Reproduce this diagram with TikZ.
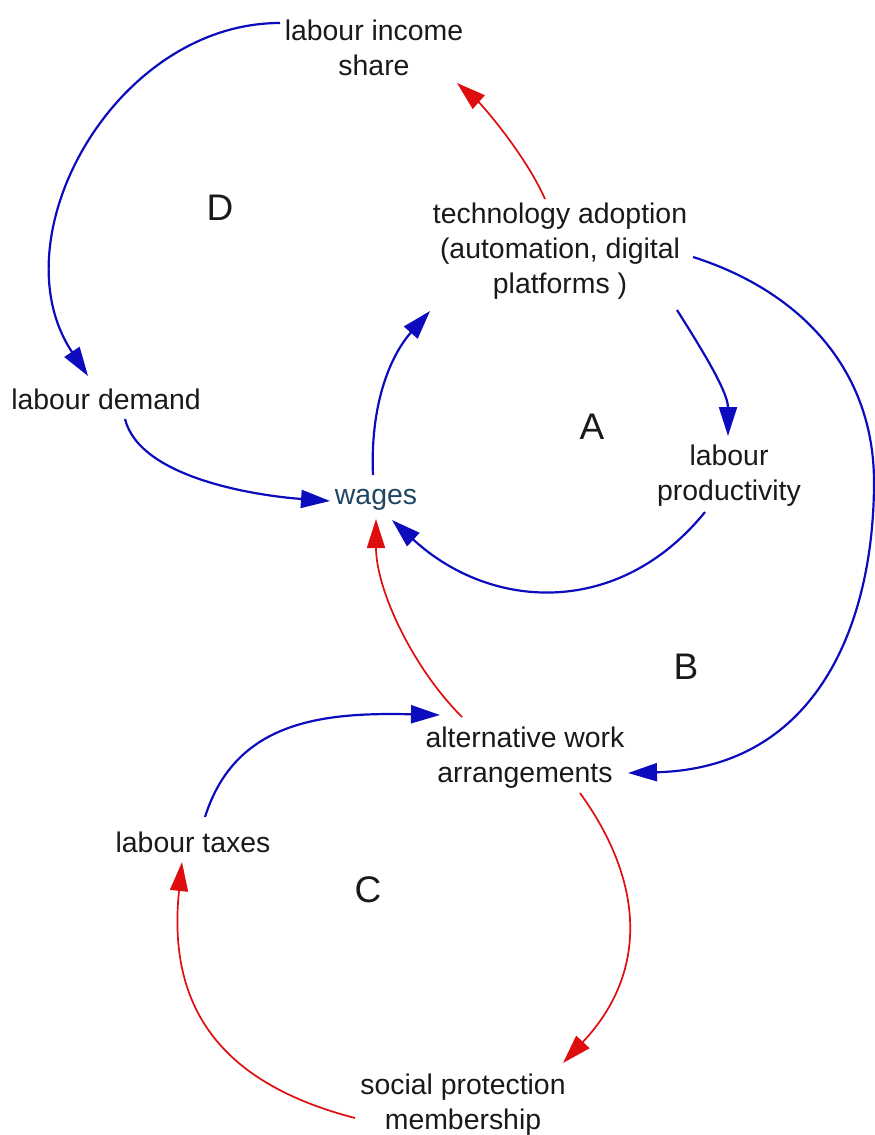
\documentclass[tikz,border=0pt]{standalone}
\usepackage{fontspec}
\setmainfont{Liberation Sans}
\usetikzlibrary{arrows.meta,calc}
\definecolor{loopblue}{RGB}{12,12,190}
\definecolor{loopred}{RGB}{222,14,14}
\definecolor{wagecol}{RGB}{30,70,100}
\begin{document}
\begin{tikzpicture}[x=1pt,y=-1pt,
  var/.style={inner sep=0pt, align=center, text=black!90,
    font=\fontsize{28.4}{35}\selectfont},
  looplabel/.style={inner sep=0pt, text=black!90,
    font=\fontsize{37}{40}\selectfont},
  bluelink/.style={draw=loopblue, line width=2.2pt,
    -{Triangle[length=29pt,width=18pt]}},
  redlink/.style={draw=loopred, line width=1.7pt,
    -{Triangle[length=29pt,width=18pt]}}]
\useasboundingbox (0,0) rectangle (875,1135);

% variables
\node[var] (lis)   at (374,48)   {labour income\\share};
\node[var] (tech)  at (560,251)  {technology adoption\\(automation, digital\\platforms )};
\node[var] (ld)    at (106,399)  {labour demand};
\node[var, text=wagecol] (wages) at (376,500) {wages};
\node[var] (lp)    at (729,476)  {labour\\productivity};
\node[var] (awa)   at (525,758)  {alternative work\\arrangements};
\node[var] (lt)    at (193,842)  {labour taxes};
\node[var] (spm)   at (463,1105) {social protection\\membership};

% loop labels
\node[looplabel] (loopD) at (220,208) {D};
\node[looplabel] (loopA) at (592,427) {A};
\node[looplabel] (loopB) at (686,667) {B};
\node[looplabel] (loopC) at (368,890) {C};

% loop D
\draw[bluelink] ($(lis)+(-94,-25)$) .. controls +(-165,0) and +(-92,-138) .. ($(ld)+(-18,-23)$);
\draw[redlink]  ($(tech)+(-15,-52)$) .. controls +(-20,-45) and +(25,22) .. ($(lis)+(83,35)$);
\draw[bluelink] ($(ld)+(19,20)$) .. controls +(15,60) and +(-70,-5) .. ($(wages)+(-46,1)$);

% loop A
\draw[bluelink] ($(wages)+(-3,-25)$) .. controls +(-3,-70) and +(-40,45) .. ($(tech)+(-130,60)$);
\draw[bluelink] ($(tech)+(117,59)$) .. controls +(22,35) and +(0,-45) .. ($(lp)+(-1,-40)$);
\draw[bluelink] ($(lp)+(-24,36)$) .. controls +(-85,105) and +(100,92) .. ($(wages)+(16,20)$);

% loop B
\draw[bluelink] ($(tech)+(133,6)$) .. controls +(110,35) and +(0,-110) .. ++(181,225)
                .. controls +(0,140) and +(190,-5) .. ($(awa)+(103,15)$);
\draw[redlink]  ($(awa)+(-63,-41)$) .. controls +(-50,-50) and +(0,70) .. ($(wages)+(0,19)$);

% loop C
\draw[bluelink] ($(lt)+(12,-25)$) .. controls +(30,-95) and +(-120,-3) .. ($(awa)+(-85,-43)$);
\draw[redlink]  ($(awa)+(55,35)$) .. controls +(65,90) and +(85,-90) .. ($(spm)+(100,-42)$);
\draw[redlink]  ($(spm)+(-108,13)$) .. controls +(-135,-35) and +(-15,145) .. ($(lt)+(-11,20)$);
\end{tikzpicture}
\end{document}
